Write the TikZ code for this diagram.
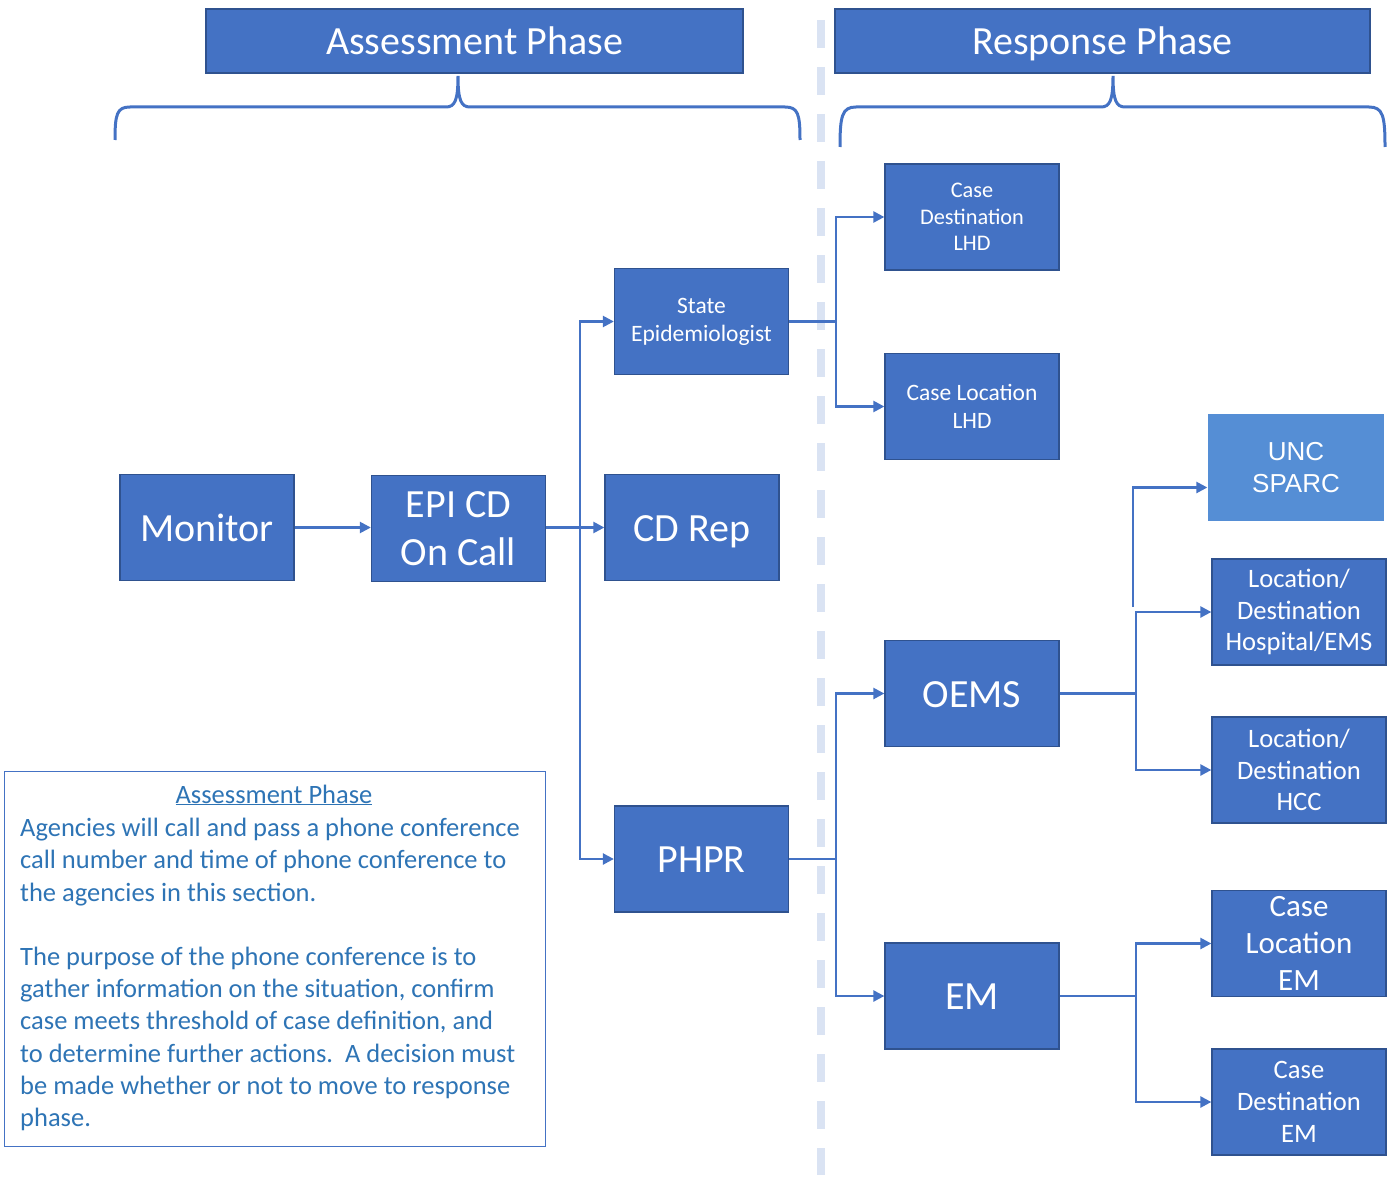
\documentclass[tikz,border=0pt]{standalone}
\usepackage{fontspec}
\setmainfont{Carlito}
\newfontfamily\arialf{Liberation Sans}
\usetikzlibrary{arrows.meta}
\definecolor{boxfill}{HTML}{4472C4}
\definecolor{boxline}{HTML}{2F528F}
\definecolor{uncfill}{HTML}{558ED5}
\definecolor{dashc}{HTML}{DAE3F3}
\definecolor{notec}{HTML}{2E74B5}
\tikzset{
  bx/.style={draw=boxline, fill=boxfill, line width=1.3pt, text=white, align=center,
    inner sep=0pt, minimum width=174pt, minimum height=106pt},
  single/.style={font=\fontsize{40}{48}\selectfont, text height=27pt, text depth=0pt},
  conn/.style={draw=boxfill, line width=2.4pt},
  arr/.style={conn, -{Triangle[length=11pt,width=11pt]}},
  brace/.style={draw=boxfill, line width=3pt},
}
\begin{document}
\begin{tikzpicture}[x=1pt,y=-1pt]
\useasboundingbox (0,0) rectangle (1389,1177);
% dashed separator
\draw[dashc, line width=8pt, dash pattern=on 28pt off 19pt] (821,20) -- (821,1175);
% title boxes
\node[bx, single, minimum width=537pt, minimum height=64pt] (assess) at (474.5,41) {Assessment Phase};
\node[bx, single, minimum width=535pt, minimum height=64pt] (resp) at (1102.5,41) {Response Phase};
% braces
\draw[brace] (115,140) .. controls (115,114) and (117,107) .. (130,107) -- (446,107)
  .. controls (455,107) and (458,100) .. (458,76)
  .. controls (458,100) and (461,107) .. (470,107) -- (785,107)
  .. controls (798,107) and (800,114) .. (800,140);
\draw[brace] (840,147) .. controls (840,116) and (842,107) .. (856,107) -- (1101,107)
  .. controls (1110,107) and (1113,100) .. (1113,76)
  .. controls (1113,100) and (1116,107) .. (1125,107) -- (1369,107)
  .. controls (1383,107) and (1385,116) .. (1385,147);
% assessment nodes
\node[bx, single] (monitor) at (207,527.5) {Monitor};
\node[bx, font=\fontsize{40}{48}\selectfont] (epicd) at (458.5,528.5) {EPI CD\\On Call};
\node[bx, single] (cdrep) at (692,527.5) {CD Rep};
\node[bx, font=\fontsize{23.5}{28}\selectfont] (state) at (701.5,321.5) {State\\Epidemiologist};
\node[bx, single] (phpr) at (701.5,859) {PHPR};
% response nodes
\node[bx, font=\fontsize{22.3}{26.5}\selectfont] (cdlhd) at (972,217) {Case\\Destination\\LHD};
\node[bx, font=\fontsize{23.5}{28}\selectfont] (cllhd) at (972,406.5) {Case Location\\LHD};
\node[bx, single] (oems) at (972,693.5) {OEMS};
\node[bx, single] (em) at (972,996) {EM};
\node[bx, draw=none, fill=uncfill, minimum width=176pt, minimum height=107pt, font=\arialf\fontsize{26}{32}\selectfont] (unc) at (1296,467.5) {UNC\\SPARC};
\node[bx, font=\fontsize{26.6}{31.5}\selectfont] (hosp) at (1299,612) {Location/\\Destination\\Hospital/EMS};
\node[bx, font=\fontsize{26.6}{31.5}\selectfont] (hcc) at (1299,770) {Location/\\Destination\\HCC};
\node[bx, font=\fontsize{31}{37}\selectfont] (clem) at (1299,943.5) {Case\\Location\\EM};
\node[bx, font=\fontsize{26.6}{32}\selectfont] (cdem) at (1299,1102) {Case\\Destination\\EM};
% connectors
\draw[arr] (monitor) -- (epicd.west |- monitor);
\draw[arr] (epicd.east |- cdrep) -- (cdrep);
\coordinate (t1) at (580,527.5);
\draw[arr] (t1) |- (state.west);
\draw[arr] (t1) |- (phpr.west);
\coordinate (t2) at (836,321.5);
\draw[conn] (state.east) -- (t2);
\draw[arr] (t2) |- (cdlhd.west);
\draw[arr] (t2) |- (cllhd.west);
\coordinate (t3) at (836,859);
\draw[conn] (phpr.east) -- (t3);
\draw[arr] (t3) |- (oems.west);
\draw[arr] (t3) |- (em.west);
\coordinate (t4) at (1136,693.5);
\draw[conn] (oems.east) -- (t4);
\draw[arr] (t4) |- (hosp.west);
\draw[arr] (t4) |- (hcc.west);
\coordinate (t5) at (1133,607);
\draw[arr] (t5) |- ([yshift=-20pt]unc.west);
\coordinate (t6) at (1136,996);
\draw[conn] (em.east) -- (t6);
\draw[arr] (t6) |- (clem.west);
\draw[arr] (t6) |- (cdem.west);
% note box
\node[draw=boxfill, line width=1.3pt, minimum width=541pt, minimum height=375pt, inner sep=0pt, anchor=north west] (note) at (4,771) {};
\node[text=notec, font=\fontsize{26.5}{32.2}\selectfont, anchor=base, inner sep=0pt] (notetitle) at (274,803) {\underline{Assessment Phase}};
\node[text=notec, font=\fontsize{26.5}{32.2}\selectfont, align=left, anchor=north west, inner sep=0pt] (notebody) at (20,818)
{Agencies will call and pass a phone conference\\
call number and time of phone conference to\\
the agencies in this section.\\[32.2pt]
The purpose of the phone conference is to\\
gather information on the situation, confirm\\
case meets threshold of case definition, and\\
to determine further actions.\ \ A decision must\\
be made whether or not to move to response\\
phase.};
\end{tikzpicture}
\end{document}
